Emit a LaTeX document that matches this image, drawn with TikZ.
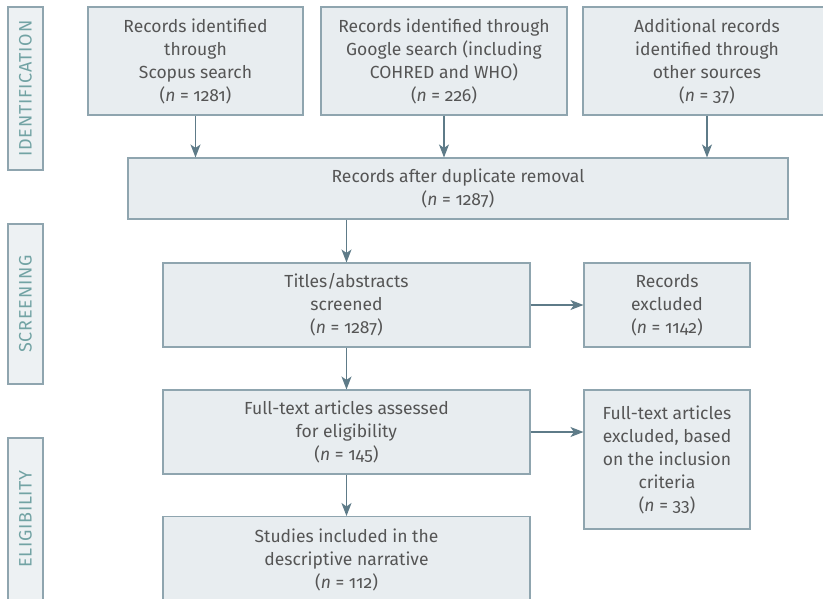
\documentclass[tikz,border=0pt]{standalone}
\usepackage{fontspec}
\setmainfont{Fira Sans}[Numbers=OldStyle]
\newfontfamily\phasefont{Fira Sans}[LetterSpace=4]
\usetikzlibrary{arrows.meta,calc}
\definecolor{boxfill}{HTML}{E8EDF0}
\definecolor{boxline}{HTML}{8FA5AF}
\definecolor{arrowc}{HTML}{5E7B88}
\definecolor{txt}{HTML}{555555}
\definecolor{phasetxt}{HTML}{72A3A4}
\definecolor{phasefill}{HTML}{EDF1F3}
\tikzset{
  box/.style={draw=boxline, fill=boxfill, line width=1.1pt, rectangle,
    align=center, text=txt, inner sep=0pt,
    font=\fontsize{17.5}{23}\selectfont},
  phase/.style={draw=boxline, fill=phasefill, line width=1.1pt, rectangle,
    inner sep=0pt, minimum width=35pt},
  phaselabel/.style={rotate=90, text=phasetxt, inner sep=0pt,
    font=\phasefont\fontsize{18}{20}\selectfont},
  flow/.style={draw=arrowc, line width=1.2pt,
    -{Stealth[length=13pt,width=10pt,inset=3.5pt]}},
}
\begin{document}
\begin{tikzpicture}[x=1pt,y=-1pt]
\useasboundingbox (0,0) rectangle (823,598);
\clip (0,0) rectangle (823,598);
% phase labels
\node[phase, minimum height=163pt] (pid) at (25.5,88.5) {};
\node[phaselabel] (pidt) at (pid.center) {IDENTIFICATION};
\node[phase, minimum height=160pt] (pscr) at (25.5,304) {};
\node[phaselabel] (pscrt) at (pscr.center) {SCREENING};
\node[phase, minimum height=162pt] (pel) at (25.5,519) {};
\node[phaselabel] (pelt) at (pel.center) {ELIGIBILITY};
% boxes
\node[box, minimum width=215pt, minimum height=108pt] (b1) at (195.5,61)
  {Records identified\\through\\Scopus search\\(\textit{n} = 1281)};
\node[box, minimum width=246pt, minimum height=108pt] (b2) at (444,61)
  {Records identified through\\Google search (including\\COHRED and WHO)\\(\textit{n} = 226)};
\node[box, minimum width=248pt, minimum height=108pt] (b3) at (707,61)
  {Additional records\\identified through\\other sources\\(\textit{n} = 37)};
\node[box, minimum width=660pt, minimum height=61pt] (dup) at (458,188.5)
  {Records after duplicate removal\\(\textit{n} = 1287)};
\node[box, minimum width=367pt, minimum height=84pt] (scr) at (346.5,305)
  {Titles/abstracts\\screened\\(\textit{n} = 1287)};
\node[box, minimum width=166pt, minimum height=84pt] (rex) at (667,305)
  {Records\\excluded\\(\textit{n} = 1142)};
\node[box, minimum width=367pt, minimum height=84pt] (ft) at (346.5,432)
  {Full-text articles assessed\\for eligibility\\(\textit{n} = 145)};
\node[box, minimum width=166pt, minimum height=139pt] (fex) at (667,459.5)
  {Full-text articles\\excluded, based\\on the inclusion\\criteria\\(\textit{n} = 33)};
\node[box, minimum width=367pt, minimum height=116pt, anchor=north] (inc) at (346.5,516) {};
\node[align=center, text=txt, inner sep=0pt, font=\fontsize{17.5}{23}\selectfont, anchor=north] (inct) at (346.5,529)
  {Studies included in the\\descriptive narrative\\(\textit{n} = 112)};
% connectors
\draw[flow] (b1.south) -- (b1.south |- dup.north);
\draw[flow] (b2.south) -- (b2.south |- dup.north);
\draw[flow] (b3.south) -- (b3.south |- dup.north);
\draw[flow] (scr.north |- dup.south) -- (scr.north);
\draw[flow] (scr.east) -- (rex.west);
\draw[flow] (scr.south) -- (ft.north);
\draw[flow] (ft.east) -- (ft.east -| fex.west);
\draw[flow] (ft.south) -- (inc.north);
\end{tikzpicture}
\end{document}
